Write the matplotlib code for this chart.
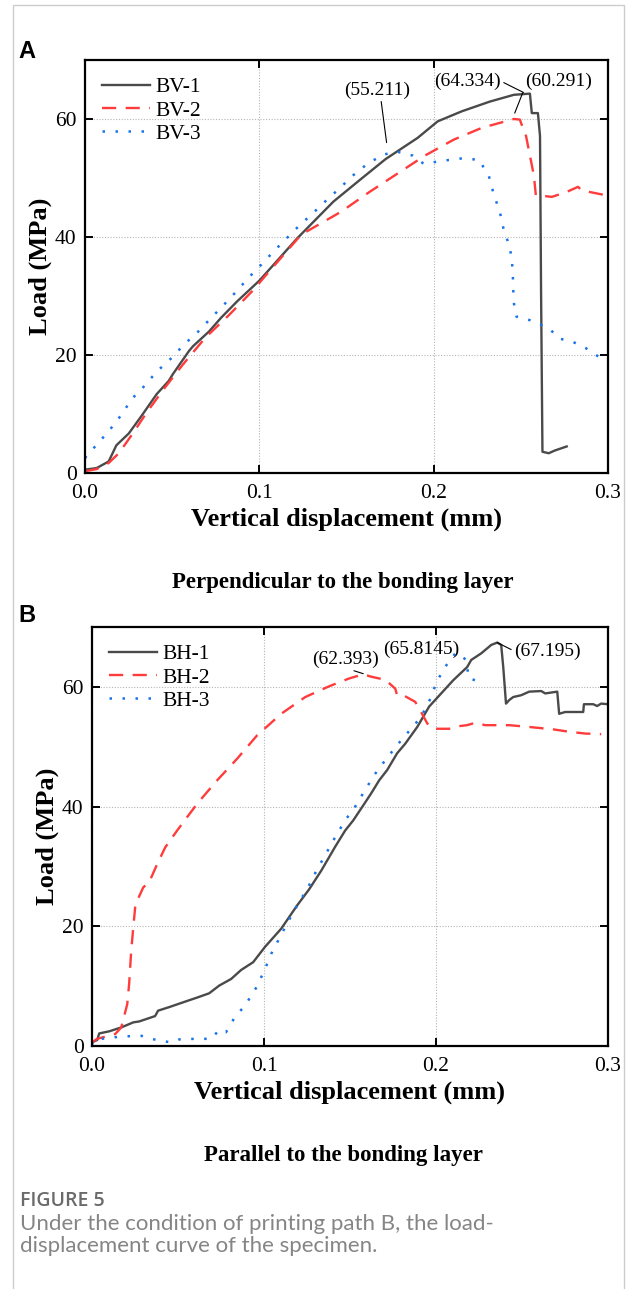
import matplotlib
matplotlib.use("Agg")
import matplotlib.pyplot as plt
from matplotlib.patches import Rectangle

# ---- data (displacement mm, load MPa) ----
bv1_x = [0, 0.0067, 0.0136, 0.018, 0.0251, 0.032, 0.0412, 0.048, 0.0505, 0.0597, 0.062, 0.0712,
         0.078, 0.0873, 0.1, 0.1218, 0.1425, 0.1586, 0.1724, 0.1908, 0.2023, 0.2161, 0.2322,
         0.246, 0.2552, 0.2563, 0.2598, 0.261, 0.2616, 0.2624, 0.266, 0.2694, 0.2763]
bv1_y = [0.56, 0.84, 1.96, 4.7, 6.7, 9.5, 13.4, 15.6, 16.8, 20.7, 21.5, 24.0,
         26.3, 29.1, 32.6, 39.8, 46.0, 49.9, 53.2, 56.8, 59.6, 61.3, 62.95,
         64.1, 64.3, 61.0, 61.0, 57.1, 31.0, 3.6, 3.35, 3.8, 4.5]

bv2_x = [0, 0.0067, 0.0136, 0.0194, 0.0274, 0.0355, 0.0459, 0.0562, 0.0689, 0.0827, 0.0965,
         0.1034, 0.124, 0.147, 0.163, 0.179, 0.195, 0.2115, 0.2276, 0.246, 0.2494, 0.253,
         0.2575, 0.2586, 0.2678, 0.276, 0.2828, 0.285, 0.3]
bv2_y = [0.3, 0.67, 1.7, 3.35, 6.7, 10.3, 14.5, 18.4, 22.9, 26.8, 31.0,
         33.4, 40.4, 44.3, 47.6, 50.7, 53.8, 56.5, 58.5, 60.0, 59.9, 57.1,
         50.4, 47.1, 46.8, 47.6, 48.5, 47.9, 47.0]

bv3_x = [0, 0.0005, 0.0074, 0.0147, 0.021, 0.0267, 0.0339, 0.0412, 0.0493, 0.0569, 0.0647,
         0.0724, 0.0793, 0.0866, 0.0938, 0.1011, 0.108, 0.1154, 0.1228, 0.1306, 0.1384,
         0.1462, 0.154, 0.162, 0.1713, 0.1798, 0.188, 0.1943, 0.2046, 0.2156, 0.226,
         0.2317, 0.2345, 0.238, 0.2402, 0.2437, 0.245, 0.2456, 0.2458, 0.2475, 0.2578,
         0.267, 0.2717, 0.2793, 0.2871, 0.2947]
bv3_y = [0.3, 2.8, 5.0, 7.5, 9.9, 12.5, 14.7, 17.2, 19.4, 21.8, 23.9,
         26.3, 28.4, 30.7, 33.1, 35.3, 37.5, 39.7, 41.9, 44.0, 46.2,
         48.3, 50.5, 52.4, 54.0, 54.4, 53.8, 52.4, 52.9, 53.3, 53.1,
         50.3, 47.2, 44.2, 41.2, 38.3, 35.5, 32.3, 29.1, 26.5, 25.7,
         24.3, 22.8, 22.3, 21.2, 19.7]

bh1_x = [0, 0.003, 0.0042, 0.01, 0.017, 0.024, 0.0274, 0.0367, 0.0384, 0.0449, 0.053, 0.0612,
         0.0681, 0.074, 0.0809, 0.0867, 0.0937, 0.1007, 0.11, 0.1193, 0.1263, 0.1333, 0.1414,
         0.1472, 0.1519, 0.1577, 0.1623, 0.167, 0.1716, 0.1774, 0.1821, 0.1891, 0.196, 0.203,
         0.21, 0.2181, 0.2205, 0.2263, 0.2321, 0.2356, 0.2379, 0.2391, 0.2407, 0.2426, 0.2449,
         0.2495, 0.2542, 0.2612, 0.2635, 0.2705, 0.2716, 0.2751, 0.2856, 0.286, 0.2914,
         0.2937, 0.296, 0.3]
bh1_y = [0.6, 1.0, 2.1, 2.45, 3.1, 3.95, 4.1, 5.0, 5.9, 6.5, 7.3, 8.1,
         8.8, 10.1, 11.2, 12.7, 14.0, 16.6, 19.6, 23.5, 26.2, 29.3, 33.3,
         36.0, 37.7, 40.2, 42.2, 44.4, 46.1, 48.9, 50.5, 53.3, 56.7, 58.9,
         61.1, 63.3, 64.5, 65.6, 67.0, 67.4, 67.0, 63.3, 57.2, 57.8, 58.3,
         58.6, 59.2, 59.3, 58.9, 59.2, 55.5, 55.8, 55.8, 57.1, 57.1,
         56.8, 57.2, 57.1]

bh2_x = [0, 0.003, 0.0135, 0.017, 0.0205, 0.0216, 0.0228, 0.024, 0.0251, 0.0263, 0.0298,
         0.0333, 0.0379, 0.0426, 0.0495, 0.0612, 0.0728, 0.0844, 0.096, 0.11, 0.124,
         0.1379, 0.1495, 0.1577, 0.1623, 0.167, 0.1705, 0.1763, 0.1774, 0.181, 0.1879,
         0.1902, 0.1949, 0.1984, 0.2077, 0.2123, 0.2181, 0.2228, 0.2286, 0.2426, 0.2542,
         0.2681, 0.2774, 0.2867, 0.296]
bh2_y = [0.6, 1.2, 2.0, 3.1, 7.0, 10.4, 15.9, 19.8, 23.2, 24.3, 26.5,
         27.4, 30.4, 33.2, 36.0, 40.5, 44.4, 48.0, 51.9, 55.5, 58.3,
         60.1, 61.4, 62.1, 61.7, 61.4, 61.2, 59.7, 58.6, 58.6, 57.5,
         56.4, 53.9, 53.0, 53.0, 53.4, 53.6, 54.0, 53.6, 53.6, 53.3,
         52.9, 52.5, 52.2, 52.1]

bh3_x = [0, 0.0007, 0.0077, 0.0181, 0.0286, 0.0374, 0.046, 0.0507, 0.06, 0.0693, 0.074,
         0.0779, 0.0826, 0.0895, 0.0956, 0.1002, 0.1042, 0.1093, 0.1142, 0.1198, 0.1256,
         0.1305, 0.136, 0.1414, 0.1472, 0.1535, 0.1588, 0.1647, 0.1709, 0.1781, 0.1849,
         0.1914, 0.1967, 0.2002, 0.2047, 0.2115, 0.2177, 0.2189, 0.2259]
bh3_y = [0.2, 0.9, 1.3, 1.6, 1.7, 1.0, 0.6, 1.1, 1.2, 1.2, 2.7,
         2.3, 4.6, 7.0, 9.8, 12.6, 15.4, 18.2, 20.9, 23.7, 26.5,
         29.3, 32.1, 34.9, 37.7, 40.2, 42.8, 45.5, 47.9, 50.5, 52.8,
         55.0, 58.0, 60.7, 63.1, 65.7, 64.5, 61.5, 60.75]

labels_a = ["BV-1", "BV-2", "BV-3"]
labels_b = ["BH-1", "BH-2", "BH-3"]
x_ticks = [0.0, 0.1, 0.2, 0.3]
x_ticklabels = ["0.0", "0.1", "0.2", "0.3"]
y_ticks = [0, 20, 40, 60]

GRAY = "#4a4a4a"
RED = "#ff3b3b"
BLUE = "#1a73e8"
SERIF = "Liberation Serif"

fig = plt.figure(figsize=(6.3, 12.89), dpi=100)

# light frame around the whole figure (open at the bottom)
fig.patches.append(Rectangle((13 / 630, -0.05), (624 - 13) / 630, 1.05 - 5 / 1289,
                             transform=fig.transFigure, fill=False,
                             edgecolor="#cccccc", linewidth=1.0))


def style_axes(ax):
    ax.set_xlim(0, 0.3)
    ax.set_ylim(0, 70)
    ax.set_xticks(x_ticks)
    ax.set_xticklabels(x_ticklabels)
    ax.set_yticks(y_ticks)
    ax.grid(True, linestyle=(0, (1, 1.5)), color="#b5b5b5", linewidth=0.8)
    ax.tick_params(direction="in", length=6, width=1.4, top=True, right=True,
                   labelsize=15.5)
    ax.tick_params(axis="x", pad=8)
    ax.tick_params(axis="y", pad=6)
    for lab in ax.get_xticklabels() + ax.get_yticklabels():
        lab.set_family(SERIF)
    for s in ax.spines.values():
        s.set_linewidth(1.6)
    ax.set_xlabel("Vertical displacement (mm)", family=SERIF, fontweight="bold",
                  fontsize=19, labelpad=3)
    ax.set_ylabel("Load (MPa)", family=SERIF, fontweight="bold", fontsize=19, labelpad=2)


def draw(ax, xs, ys, labels):
    ax.plot(xs[0], ys[0], color=GRAY, linewidth=1.7, label=labels[0])
    ax.plot(xs[1], ys[1], color=RED, linewidth=1.7, linestyle=(0, (6, 4)), label=labels[1])
    ax.plot(xs[2], ys[2], color=BLUE, linewidth=1.8, linestyle=(0, (1, 4.2)), label=labels[2])
    leg = ax.legend(loc="upper left", frameon=False, handlelength=2.2, handletextpad=0.25,
                    labelspacing=0.15, borderaxespad=0.5, borderpad=0.3,
                    prop={"family": SERIF, "size": 15.5})
    return leg


# ---- panel A ----
axA = fig.add_axes([85 / 630, 1 - 473 / 1289, (608 - 85) / 630, (473 - 60) / 1289])
draw(axA, [bv1_x, bv2_x, bv3_x], [bv1_y, bv2_y, bv3_y], labels_a)
style_axes(axA)
ann = dict(family=SERIF, fontsize=14, ha="center", va="center")
arr = dict(arrowstyle="-", color="black", linewidth=0.8, shrinkA=0, shrinkB=0)
axA.annotate("(55.211)", xy=(0.173, 56.0), xytext=(0.1678, 64.9),
             arrowprops=dict(arr, relpos=(0.55, 0.0)), **ann)
axA.annotate("(64.334)", xy=(0.2515, 64.5), xytext=(0.2195, 66.4),
             arrowprops=dict(arr, relpos=(1.0, 0.5)), **ann)
axA.annotate("(60.291)", xy=(0.2465, 61.0), xytext=(0.2715, 66.4),
             arrowprops=dict(arr, relpos=(0.0, 0.15)), **ann)

# ---- panel B ----
axB = fig.add_axes([92 / 630, 1 - 1046 / 1289, (608 - 92) / 630, (1046 - 627) / 1289])
draw(axB, [bh1_x, bh2_x, bh3_x], [bh1_y, bh2_y, bh3_y], labels_b)
style_axes(axB)
axB.annotate("(62.393)", xy=(0.1577, 62.2), xytext=(0.1472, 64.6),
             arrowprops=dict(arr, relpos=(0.5, 0.0)), **ann)
axB.text(0.1914, 66.2, "(65.8145)", **ann)
axB.annotate("(67.195)", xy=(0.2356, 67.4), xytext=(0.2647, 66.0),
             arrowprops=dict(arr, relpos=(0.0, 0.5)), **ann)

# ---- panel letters, subtitles, caption ----
fig.text(18 / 630, 1 - 51 / 1289, "A", family="Liberation Sans", fontweight="bold",
         fontsize=17, va="center")
fig.text(18 / 630, 1 - 616 / 1289, "B", family="Liberation Sans", fontweight="bold",
         fontsize=17, va="center")
fig.text(343 / 630, 1 - 583 / 1289, "Perpendicular to the bonding layer", family=SERIF,
         fontweight="bold", fontsize=16.5, ha="center", va="center")
fig.text(343 / 630, 1 - 1155 / 1289, "Parallel to the bonding layer", family=SERIF,
         fontweight="bold", fontsize=16.5, ha="center", va="center")
fig.text(20 / 630, 1 - 1201 / 1289, "FIGURE 5", family="Open Sans", fontweight="semibold",
         fontsize=14, color="#6a6a6a", va="center")
fig.text(20 / 630, 1 - 1235 / 1289,
         "Under the condition of printing path B, the load-\ndisplacement curve of the specimen.",
         family="Lato", fontsize=16, color="#858585", va="center", linespacing=1.1)

fig.savefig("out.png", dpi=100)
